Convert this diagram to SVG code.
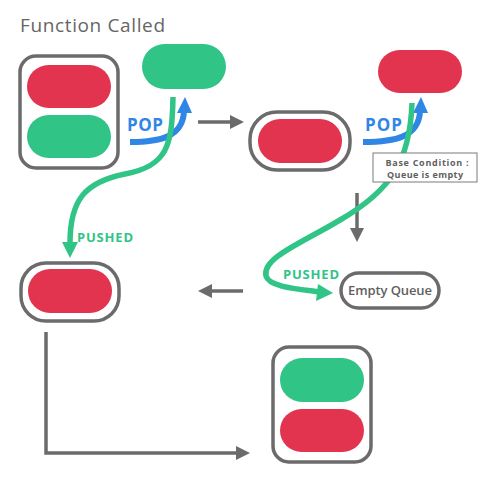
<svg xmlns="http://www.w3.org/2000/svg" width="500" height="500" viewBox="0 0 500 500">
<style>
.box{fill:none;stroke:#6b6b6b;stroke-width:3.5}
.red{fill:#e3344f}
.green{fill:#30c486}
.gline{fill:none;stroke:#6b6b6b;stroke-width:3.5}
.ghead{fill:#6b6b6b}
.bline{fill:none;stroke:#2f86e5;stroke-width:6}
.bhead{fill:#2f86e5}
.pline{fill:none;stroke:#30c486;stroke-width:5.5}
.phead{fill:#30c486}
.pop{font-family:"Open Sans","Liberation Sans",sans-serif;font-weight:700;font-size:17px;fill:#2f86e5}
.pushed{font-family:"Open Sans","Liberation Sans",sans-serif;font-weight:700;font-size:13px;fill:#30c486}
.lbl{font-family:"Open Sans","Liberation Sans",sans-serif;font-weight:600;fill:#5f5f5f}
</style>
<rect width="500" height="500" fill="#ffffff"/>
<text x="20" y="32" class="lbl" style="font-size:19px;font-weight:500;fill:#666" textLength="145">Function Called</text>

<g id="stack1">
<rect class="box" x="20" y="56" width="98" height="112" rx="16"/>
<rect class="red" x="27" y="65" width="84" height="43" rx="21.5"/>
<rect class="green" x="27" y="115" width="84" height="43" rx="21.5"/>
</g>
<g id="popped1">
<rect class="green" x="142" y="44" width="84" height="45" rx="22.5"/>
</g>
<g id="stack2">
<rect class="box" x="250" y="112" width="100" height="58" rx="27"/>
<rect class="red" x="258" y="119" width="84" height="44" rx="22"/>
</g>
<g id="popped2">
<rect class="red" x="378" y="50" width="84" height="43" rx="21.5"/>
</g>
<g id="stack3">
<rect class="box" x="21" y="263" width="98" height="58" rx="25"/>
<rect class="red" x="28" y="269" width="84" height="44" rx="22"/>
</g>
<g id="emptyqueue">
<rect class="box" x="341" y="273" width="98" height="35" rx="17.5"/>
<text x="390" y="295" class="lbl" style="font-size:13px" text-anchor="middle" textLength="84">Empty Queue</text>
</g>
<g id="stack4">
<rect class="box" x="273" y="347" width="98" height="115" rx="16"/>
<rect class="green" x="280" y="358" width="84" height="44" rx="22"/>
<rect class="red" x="280" y="409" width="84" height="43" rx="21.5"/>
</g>

<g id="connectors">
<line class="gline" x1="198" y1="122" x2="232" y2="122"/>
<polygon class="ghead" points="230,115 244,122 230,129"/>
<line class="gline" x1="243" y1="291" x2="210" y2="291"/>
<polygon class="ghead" points="212,284 198,291 212,298"/>
<line class="gline" x1="357" y1="193" x2="357" y2="230"/>
<polygon class="ghead" points="350,228 364,228 357,242"/>
<path class="gline" d="M46,332 V453 H238"/>
<polygon class="ghead" points="236,446 250,453 236,460"/>

<path class="bline" d="M130,142 C160,142 183,137 184,111"/>
<polygon class="bhead" points="177,113 192,113 185,97"/>
<path class="bline" d="M363,142 C395,142 419,137 420,111"/>
<polygon class="bhead" points="413,113 428,113 421,97"/>

<path class="pline" d="M173,97 C172,145 168,166 125,174 C85,182 70,200 70,243"/>
<polygon class="phead" points="62,242 78,242 70,258"/>
<path class="pline" d="M412,103 C410,160 392,190 340,220 C300,244 262,258 266,276 C269,287 298,289 320,292"/>
<polygon class="phead" points="318,284 333,293 316,301"/>

<text x="127" y="131" class="pop" textLength="36">POP</text>
<text x="365" y="131" class="pop" textLength="37">POP</text>
<text x="77" y="242" class="pushed" textLength="56">PUSHED</text>
<text x="283" y="279" class="pushed" textLength="56">PUSHED</text>
</g>

<g id="basecond">
<rect x="373" y="153" width="104" height="29" fill="#fff" stroke="#7a7a7a" stroke-width="1"/>
<text x="427" y="166" class="lbl" style="font-size:9px;font-weight:700" text-anchor="middle" textLength="83">Base Condition :</text>
<text x="425" y="178" class="lbl" style="font-size:9px;font-weight:700" text-anchor="middle" textLength="76">Queue is empty</text>
</g>
</svg>
